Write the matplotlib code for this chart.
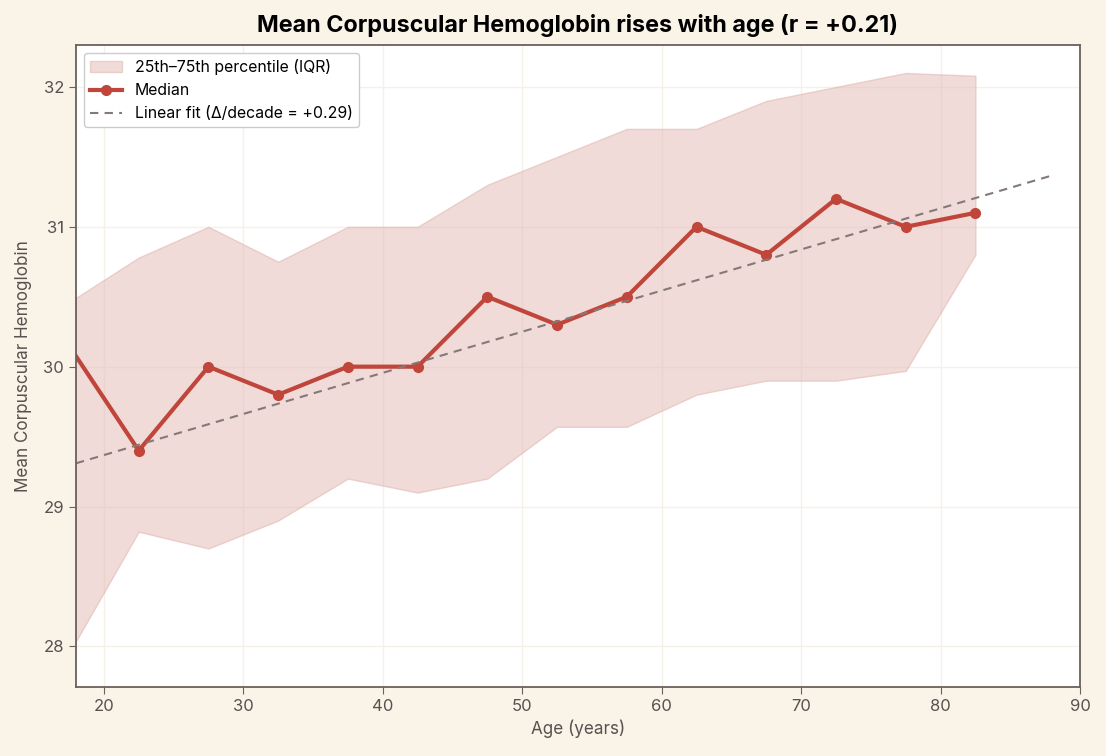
import matplotlib
matplotlib.use("Agg")
import matplotlib.pyplot as plt
import numpy as np

plt.rcParams['font.family'] = ['Inter', 'DejaVu Sans']

# age bin centres (years)
age = [17.5, 22.5, 27.5, 32.5, 37.5, 42.5, 47.5, 52.5, 57.5, 62.5, 67.5, 72.5, 77.5, 82.5]
median = [30.15, 29.4, 30.0, 29.8, 30.0, 30.0, 30.5, 30.3, 30.5, 31.0, 30.8, 31.2, 31.0, 31.1]
q25 = [27.95, 28.82, 28.7, 28.9, 29.2, 29.1, 29.2, 29.57, 29.57, 29.8, 29.9, 29.9, 29.97, 30.8]
q75 = [30.46, 30.78, 31.0, 30.75, 31.0, 31.0, 31.3, 31.5, 31.7, 31.7, 31.9, 32.0, 32.1, 32.08]

# linear fit over observed age range
fit_x = [18, 88]
fit_slope = 0.0294
fit_intercept = 28.78

bg = "#FAF3E8"
red = "#C0453A"
ink = "#5a5050"

fig = plt.figure(figsize=(11.06, 7.56), dpi=100, facecolor=bg)
ax = fig.add_axes([0.0687, 0.0913, 0.9078, 0.8492])
ax.set_facecolor("white")

ax.fill_between(age, q25, q75, color="#E3B8B3", alpha=0.5, edgecolor="#DDB0AA",
                linewidth=1, label="25th\u201375th percentile (IQR)")
ax.plot(age, median, color=red, lw=3, marker="o", ms=7, label="Median")
fx = np.array(fit_x)
ax.plot(fx, fit_intercept + fit_slope * fx, color="#857878", lw=1.5, ls=(0, (4, 3)),
        label="Linear fit (\u0394/decade = +0.29)")

ax.set_xlim(18, 90)
ax.set_ylim(27.71, 32.3)
ax.set_xticks(range(20, 91, 10))
ax.set_yticks([28, 29, 30, 31, 32])
ax.grid(True, color="#f5f1e8", lw=1)
ax.set_axisbelow(True)

for s in ax.spines.values():
    s.set_color("#6b605a")
    s.set_linewidth(1.3)
ax.tick_params(colors=ink, labelsize=12, length=5, color="#6b605a")

ax.set_xlabel("Age (years)", fontsize=12.3, color=ink)
ax.set_ylabel("Mean Corpuscular Hemoglobin", fontsize=12.3, color=ink, labelpad=8)
ax.set_title("Mean Corpuscular Hemoglobin rises with age (r = +0.21)",
             fontsize=16.8, fontweight="bold", pad=9)

leg = ax.legend(loc="upper left", fontsize=11.4, frameon=True, fancybox=True,
                edgecolor="#cccccc", framealpha=1)

fig.savefig("out.png", dpi=100, facecolor=bg)
